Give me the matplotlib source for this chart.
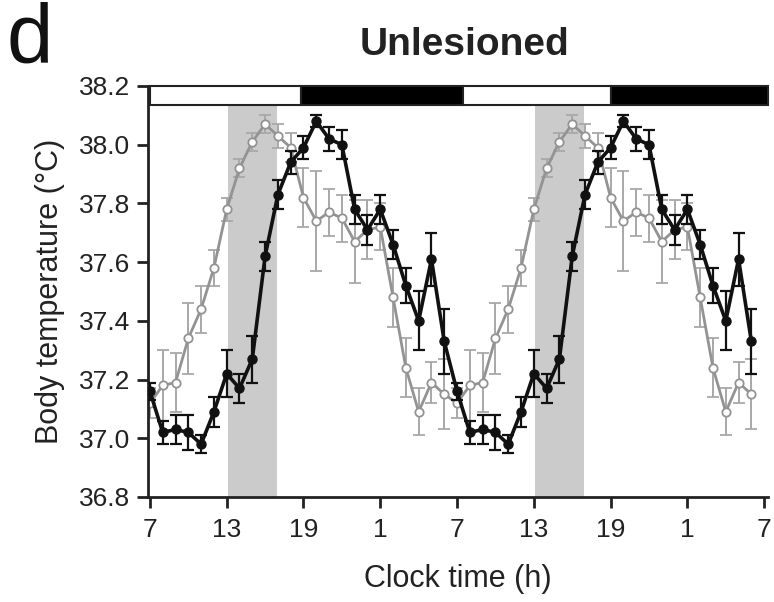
import numpy as np
import matplotlib
matplotlib.use("Agg")
import matplotlib.pyplot as plt
from matplotlib.patches import Rectangle

plt.rcParams['font.family'] = ['Liberation Sans', 'DejaVu Sans']

# ---- data (one 24 h cycle, hourly from 07:00; double-plotted) ----
hours_per_cycle = 24
lesioned_black = [37.16, 37.02, 37.03, 37.02, 36.98, 37.09, 37.22, 37.17, 37.27, 37.62,
                  37.83, 37.94, 37.99, 38.08, 38.02, 38.00, 37.78, 37.71, 37.78, 37.66,
                  37.52, 37.40, 37.61, 37.33]
black_err = [0.03, 0.04, 0.05, 0.06, 0.03, 0.05, 0.08, 0.05, 0.08, 0.05,
             0.05, 0.04, 0.04, 0.02, 0.04, 0.05, 0.05, 0.05, 0.05, 0.05,
             0.06, 0.10, 0.09, 0.11]
open_gray = [37.12, 37.18, 37.19, 37.34, 37.44, 37.58, 37.78, 37.92, 38.01, 38.07,
             38.03, 37.99, 37.82, 37.74, 37.77, 37.75, 37.67, 37.71, 37.72, 37.48,
             37.24, 37.09, 37.19, 37.15]
gray_err = [0.05, 0.12, 0.10, 0.12, 0.08, 0.06, 0.04, 0.03, 0.03, 0.03,
            0.04, 0.05, 0.10, 0.17, 0.08, 0.08, 0.14, 0.10, 0.08, 0.10,
            0.10, 0.08, 0.07, 0.12]
tick_hours = [0, 6, 12, 18, 24, 30, 36, 42, 48]
tick_labels = ['7', '13', '19', '1', '7', '13', '19', '1', '7']
shade_spans = [(6.1, 9.9), (30.1, 33.9)]
light_spans = [(0, 11.8, 'white'), (11.8, 24.5, 'black'), (24.5, 36.0, 'white'), (36.0, 48.3, 'black')]

x = np.arange(2 * hours_per_cycle)
yb = np.array(lesioned_black * 2)
eb = np.array(black_err * 2)
yg = np.array(open_gray * 2)
eg = np.array(gray_err * 2)

fig = plt.figure(figsize=(7.74, 6.02), dpi=100)
ax = fig.add_axes([148/774, 1-497/602, (768-148)/774, (497-86)/602])

ymin, ymax = 36.8, 38.2
bar_low = 38.135
ax.set_xlim(-0.15, 48.3)
ax.set_ylim(ymin, ymax)

for a, b in shade_spans:
    ax.axvspan(a, b, ymin=0, ymax=(bar_low - ymin) / (ymax - ymin),
               color='#cbcbcb', lw=0, zorder=0)

ax.errorbar(x, yg, yerr=eg, fmt='-o', color='#939393', ecolor='#a8a8a8',
            elinewidth=1.4, capsize=4, capthick=1.4, lw=2.0, ms=6.0,
            mfc='white', mec='#939393', mew=1.3, zorder=2)
ax.errorbar(x, yb, yerr=eb, fmt='-o', color='#111111', ecolor='#111111',
            elinewidth=1.6, capsize=4, capthick=1.6, lw=2.6, ms=6.5,
            mfc='#111111', mec='#111111', zorder=3)

for a, b, c in light_spans:
    ax.add_patch(Rectangle((a, bar_low), b - a, ymax - bar_low, facecolor=c,
                           edgecolor='#222222', lw=1.5, zorder=5, clip_on=False))

ax.set_xticks(tick_hours)
ax.set_xticklabels(tick_labels)
ax.set_yticks(np.round(np.arange(36.8, 38.21, 0.2), 1))
ax.set_yticklabels([f'{v:.1f}' for v in np.arange(36.8, 38.21, 0.2)])

for s in ['top', 'right']:
    ax.spines[s].set_visible(False)
for s in ['left', 'bottom']:
    ax.spines[s].set_linewidth(2)
    ax.spines[s].set_color('#222222')
ax.tick_params(direction='out', length=8, width=2, labelsize=19, colors='#222222', pad=5)
ax.tick_params(axis='x', pad=7)

ax.set_xlabel('Clock time (h)', fontsize=22, labelpad=16, color='#222222')
ax.set_ylabel('Body temperature (°C)', fontsize=22, labelpad=10, color='#222222')

fig.text(465/774, 1-45/602, 'Unlesioned', fontsize=28, fontweight='bold',
         ha='center', va='center', color='#222222')
fig.text(6/774, 1-2/602, 'd', fontsize=60, ha='left', va='top', color='#111111')

fig.savefig('out.png', dpi=100)
